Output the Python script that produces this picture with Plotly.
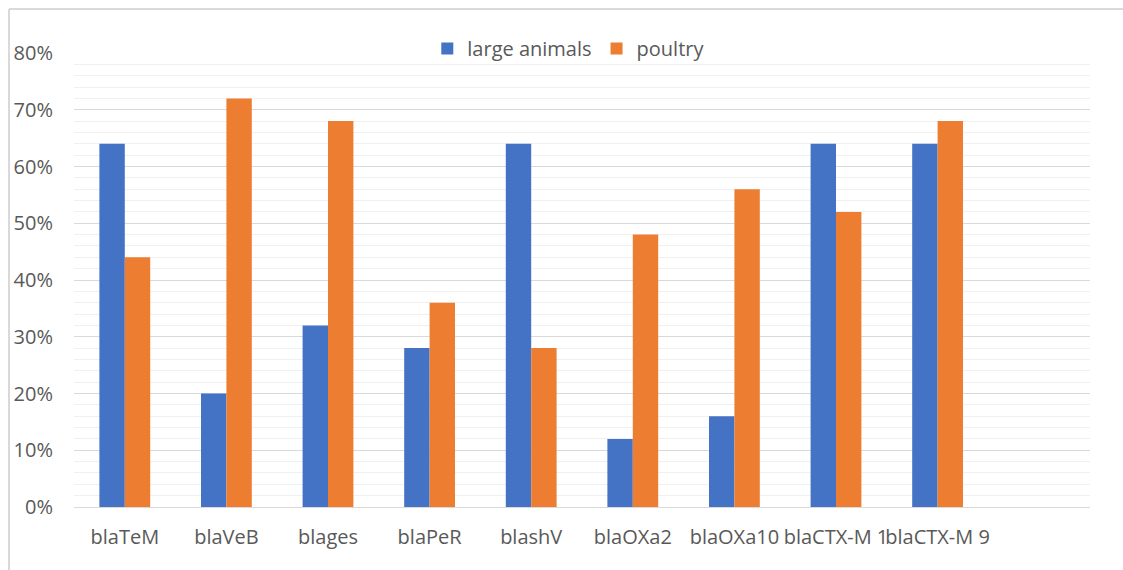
import plotly.graph_objects as go

genes = ["blaTeM", "blaVeB", "blages", "blaPeR", "blashV", "blaOXa2",
         "blaOXa10", "blaCTX-M 1", "blaCTX-M 9"]
large_animals = [64, 20, 32, 28, 64, 12, 16, 64, 64]
poultry = [44, 72, 68, 36, 28, 48, 56, 52, 68]

W, H = 1123, 570
ML, MR, MT, MB = 74, 33, 53, 63
font_family = "'Open Sans', Lato, sans-serif"
text_grey = "#595959"

fig = go.Figure()
fig.add_trace(go.Bar(name="large animals", x=genes, y=large_animals,
                     marker=dict(color="#4472C4", line=dict(width=0))))
fig.add_trace(go.Bar(name="poultry", x=genes, y=poultry,
                     marker=dict(color="#ED7D31", line=dict(width=0))))

# frame lines along the top and left of the chart area
pw = W - ML - MR
ph = H - MT - MB
px0 = (9 - ML) / pw
py_top = (H - MB - 9) / ph
fig.add_shape(type="line", xref="paper", yref="paper",
              x0=px0, x1=(W - ML) / pw + 0.01, y0=py_top, y1=py_top,
              line=dict(color="#D9D9D9", width=2))
fig.add_shape(type="line", xref="paper", yref="paper",
              x0=px0, x1=px0, y0=py_top, y1=-MB / ph - 0.01,
              line=dict(color="#D9D9D9", width=2))

fig.update_layout(
    width=W, height=H,
    margin=dict(l=ML, r=MR, t=MT, b=MB),
    paper_bgcolor="white", plot_bgcolor="white",
    barmode="group", bargap=0.5, bargroupgap=0,
    font=dict(family=font_family, size=20, color=text_grey),
    legend=dict(orientation="h", x=0.487, xanchor="center", y=1.01, yanchor="middle",
                bgcolor="rgba(0,0,0,0)", font=dict(size=20, color=text_grey),
                itemwidth=30, traceorder="normal"),
    xaxis=dict(range=[-0.5, 9.5], showgrid=False, showline=True,
               linecolor="#D9D9D9", linewidth=1, ticks="", tickangle=0,
               automargin=False,
               ticklabelstandoff=12, tickfont=dict(size=20, color=text_grey)),
    yaxis=dict(range=[0, 80], tickvals=[0, 10, 20, 30, 40, 50, 60, 70, 80],
               ticktext=["0%", "10%", "20%", "30%", "40%", "50%", "60%", "70%", "80%"],
               showgrid=True, gridcolor="#D9D9D9", gridwidth=1,
               minor=dict(dtick=2, showgrid=True, gridcolor="#F0F0F0", gridwidth=1),
               zeroline=False, showline=False, ticks="", automargin=False,
               ticklabelstandoff=20, tickfont=dict(size=20, color=text_grey)),
)

fig.write_html("out.html")
